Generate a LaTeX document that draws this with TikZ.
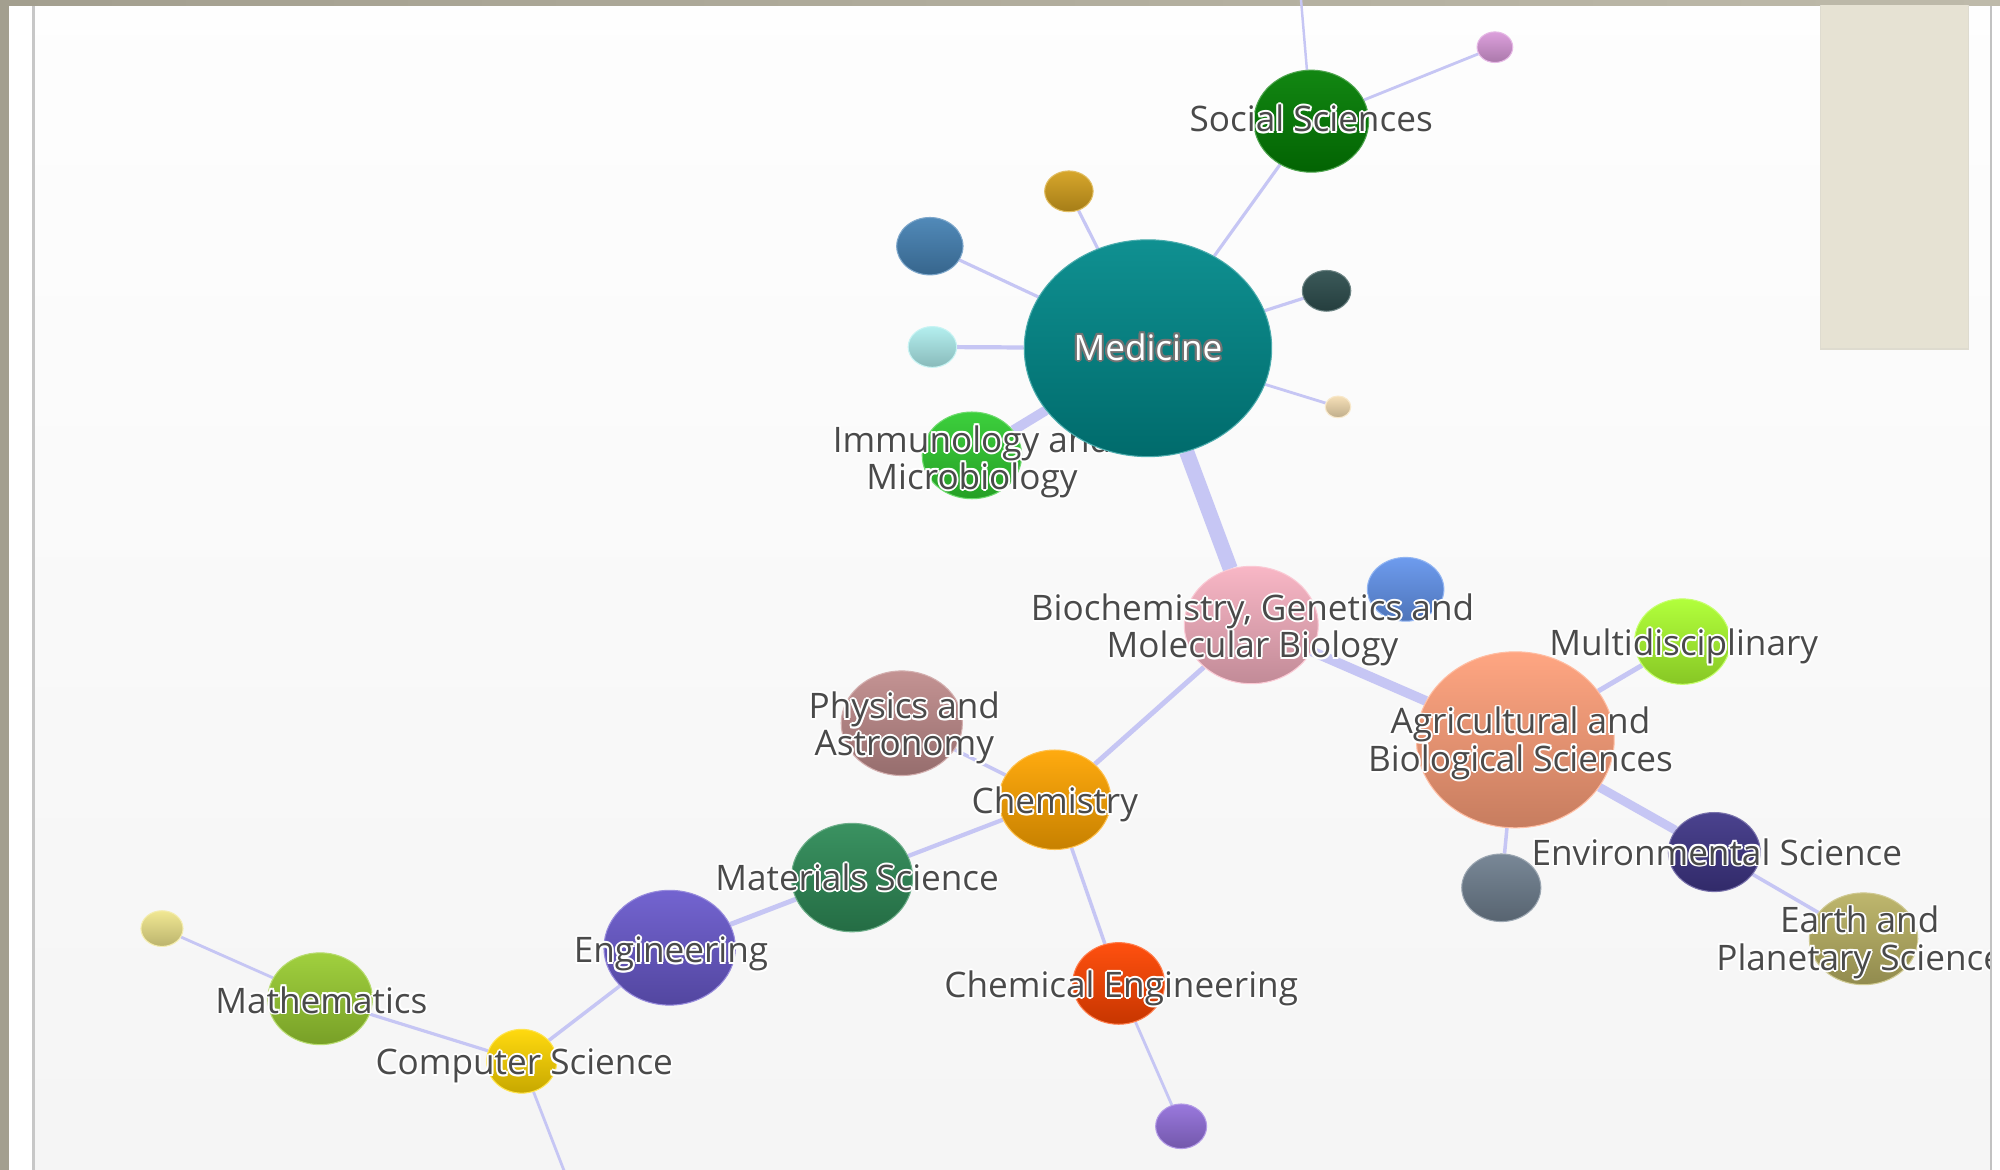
\documentclass[tikz,border=0pt]{standalone}
\usepackage{fontspec}
\setmainfont{Open Sans}
\usetikzlibrary{shapes.geometric}
\pgfdeclarelayer{back}
\pgfdeclarelayer{bg}
\pgfsetlayers{back,bg,main}
\definecolor{edgec}{HTML}{C6C6F4}
\definecolor{txt}{HTML}{4A4A4A}
\definecolor{frameg}{HTML}{A39F8F}
\definecolor{frameg2}{HTML}{BEBAAA}
\definecolor{beige}{HTML}{E6E2D3}
\definecolor{beiged}{HTML}{DEDBCF}
\definecolor{cSoc}{HTML}{037F03}
\definecolor{cPlum}{HTML}{DA9ADA}
\definecolor{cGold}{HTML}{D4A01E}
\definecolor{cSteel}{HTML}{4682B4}
\definecolor{cMed}{HTML}{00898A}
\definecolor{cDslate}{HTML}{2F4F4F}
\definecolor{cCyan}{HTML}{AFEEEE}
\definecolor{cWheat}{HTML}{F5DEB3}
\definecolor{cImmu}{HTML}{30CC30}
\definecolor{cBio}{HTML}{F8B2C2}
\definecolor{cCorn}{HTML}{6495ED}
\definecolor{cMulti}{HTML}{ADFF2F}
\definecolor{cAgri}{HTML}{FFA07A}
\definecolor{cPhys}{HTML}{C08C8C}
\definecolor{cChem}{HTML}{FFA500}
\definecolor{cEnv}{HTML}{3F3687}
\definecolor{cSlate}{HTML}{708090}
\definecolor{cEarth}{HTML}{BAB264}
\definecolor{cMat}{HTML}{2E8B57}
\definecolor{cEng}{HTML}{6A5ACD}
\definecolor{cCheng}{HTML}{FF4500}
\definecolor{cPurp}{HTML}{9370DB}
\definecolor{cYel}{HTML}{F0E68C}
\definecolor{cMath}{HTML}{9ACD32}
\definecolor{cCS}{HTML}{FFD700}
\newcommand\bub[5]{\node[ellipse, inner sep=0pt, minimum width=#3*0.012755cm, minimum height=#4*0.012755cm, top color=#5!94!white, bottom color=#5!78!black, draw=#5!70!white, line width=0.3pt] (#1) at (#2) {};}
\newcommand\hlabel[3]{%
  \foreach \dx/\dy in {0.55/0,-0.55/0,0/0.55,0/-0.55,0.4/0.4,-0.4/0.4,0.4/-0.4,-0.4/-0.4}{%
    \node[lbl,text=white,xshift=\dx pt,yshift=\dy pt-1.4pt] at (#2) {#3};}%
  \node[lbl,yshift=-1.4pt] (#1) at (#2) {#3};}
\begin{document}
\begin{tikzpicture}[x=0.012755cm, y=-0.012759cm,
  lbl/.style={font=\fontsize{10}{10.6}\selectfont, text=txt, align=center, inner sep=0pt},
  conn/.style={draw=edgec, line width=#1}]
\useasboundingbox (0,0) rectangle (1568,917);
% frame
\begin{pgfonlayer}{back}
\fill[white] (0,0) rectangle (1568,917);
\fill[top color=white!99!gray, bottom color=white!92!gray] (27.5,4) rectangle (1560,917);
\fill[black!22] (25,4) rectangle (27.5,917);
\fill[black!24] (1560,4) rectangle (1562,917);
\fill[frameg] (0,0) rectangle (7,917);
\fill[left color=frameg, right color=frameg2] (0,0) rectangle (1568,4);
\fill[beiged] (1427,4) rectangle (1544,274);
\fill[beige] (1428,4) rectangle (1543,273);
\end{pgfonlayer}
\coordinate (topc) at (1020,0);
\coordinate (botc) at (445,925);
% bubbles (Medicine later)
\bub{soc}{1028,95}{90}{80}{cSoc}
\bub{plum}{1172,37}{28}{24}{cPlum}
\bub{gold}{838,150}{38}{32}{cGold}
\bub{steel}{729,193}{52}{45}{cSteel}
\bub{dslate}{1040,228}{38}{32}{cDslate}
\bub{cyan}{731,272}{38}{32}{cCyan}
\bub{wheat}{1049,319}{20}{17}{cWheat}
\bub{bio}{981,490}{105}{92}{cBio}
\bub{corn}{1102,462}{60}{50}{cCorn}
\bub{multi}{1319,503}{75}{67}{cMulti}
\bub{agri}{1188,580}{155}{138}{cAgri}
\bub{phys}{707,567}{95}{82}{cPhys}
\bub{chem}{827,627}{88}{78}{cChem}
\bub{env}{1344,668}{72}{62}{cEnv}
\bub{slate}{1177,696}{62}{53}{cSlate}
\bub{earth}{1461,736}{85}{72}{cEarth}
\bub{mat}{668,688}{95}{85}{cMat}
\bub{eng}{525,743}{103}{90}{cEng}
\bub{cheng}{877,771}{72}{64}{cCheng}
\bub{purp}{926,883}{40}{35}{cPurp}
\bub{yel}{127,728}{33}{28}{cYel}
\bub{math}{251,783}{82}{72}{cMath}
\bub{cs}{409,832}{55}{50}{cCS}
\bub{immu}{762,357}{78}{68}{cImmu}
\hlabel{immuL}{762,358}{Immunology and\\Microbiology}
\bub{med}{900,273}{194}{170}{cMed}
% connectors behind bubbles
\begin{pgfonlayer}{bg}
\draw[conn=0.7pt] (soc) -- (topc);
\draw[conn=0.8pt] (soc) -- (plum);
\draw[conn=0.9pt] (soc) -- (med);
\draw[conn=0.9pt] (med) -- (gold);
\draw[conn=0.9pt] (med) -- (steel);
\draw[conn=0.9pt] (med) -- (dslate);
\draw[conn=1.2pt] (med) -- (cyan);
\draw[conn=0.8pt] (med) -- (wheat);
\draw[conn=2.8pt] (med) -- (immu);
\draw[conn=4.3pt] (med) -- (bio);
\draw[conn=2.8pt] (bio) -- (agri);
\draw[conn=1.4pt] (bio) -- (chem);
\draw[conn=1.4pt] (agri) -- (multi);
\draw[conn=2.5pt] (agri) -- (env);
\draw[conn=1.0pt] (agri) -- (slate);
\draw[conn=1.0pt] (env) -- (earth);
\draw[conn=1.0pt] (chem) -- (phys);
\draw[conn=1.2pt] (chem) -- (mat);
\draw[conn=1.0pt] (chem) -- (cheng);
\draw[conn=0.8pt] (cheng) -- (purp);
\draw[conn=1.4pt] (mat) -- (eng);
\draw[conn=1.0pt] (eng) -- (cs);
\draw[conn=0.9pt] (cs) -- (math);
\draw[conn=0.8pt] (math) -- (yel);
\draw[conn=0.8pt] (cs) -- (botc);
\end{pgfonlayer}
% labels
\begin{scope}
\clip (27.5,4) rectangle (1560,917);
\foreach \dx/\dy in {0.6/0,-0.6/0,0/0.6,0/-0.6,0.45/0.45,-0.45/0.45,0.45/-0.45,-0.45/-0.45}{%
  \node[lbl,text=black!55,xshift=\dx pt,yshift=\dy pt] at (900,272) {Medicine};}
\node[lbl,text=white] (medL) at (900,272) {Medicine};
\hlabel{socL}{1028,89}{Social Sciences}
\hlabel{bioL}{982,490}{Biochemistry, Genetics and\\Molecular Biology}
\hlabel{multiL}{1320,503}{Multidisciplinary}
\hlabel{agriL}{1192,579}{Agricultural and\\Biological Sciences}
\hlabel{physL}{709,567}{Physics and\\Astronomy}
\hlabel{chemL}{827,627}{Chemistry}
\hlabel{envL}{1346,664}{Environmental Science}
\hlabel{earthL}{1458,735}{Earth and\\Planetary Science}
\hlabel{matL}{672,684}{Materials Science}
\hlabel{engL}{526,744}{Engineering}
\hlabel{chengL}{879,771}{Chemical Engineering}
\hlabel{mathL}{252,780}{Mathematics}
\hlabel{csL}{411,832}{Computer Science}
\end{scope}
\end{tikzpicture}
\end{document}
